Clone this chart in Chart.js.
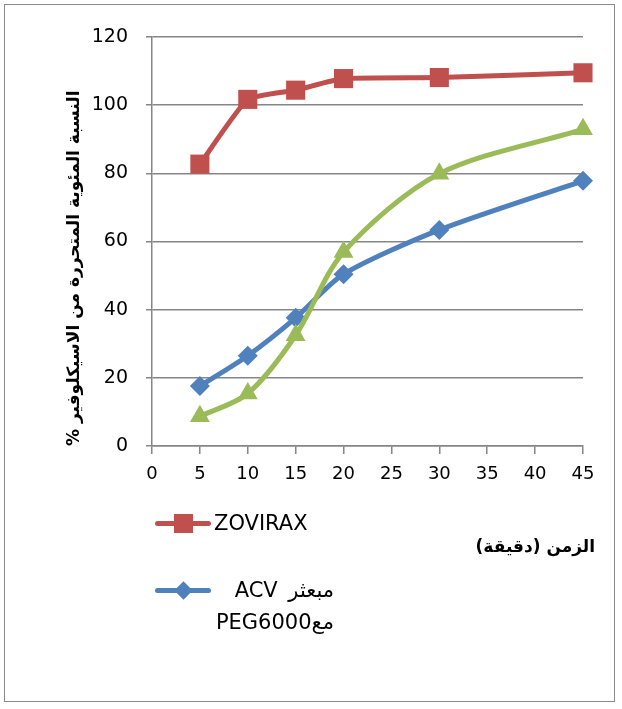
<!DOCTYPE html>
<html>
<head>
<meta charset="utf-8">
<script src="https://cdn.jsdelivr.net/npm/chart.js@4"></script>
<style>
  html, body { margin: 0; padding: 0; background: #fff; }
  #wrap { position: relative; width: 622px; height: 709px; overflow: hidden; }
  #frame { position: absolute; left: 4px; top: 4px; width: 611px; height: 698px; border: 1.5px solid #8a8a8a; box-sizing: border-box; pointer-events: none; }
  canvas { position: absolute; left: 0; top: 0; }
  .lg { position: absolute; font-family: "DejaVu Sans", sans-serif; font-size: 21px; color: #000; white-space: pre; line-height: 1; }
  .ln { position: absolute; height: 5px; border-radius: 3px; }
  .mk { position: absolute; }
  #xt { position: absolute; font-family: "DejaVu Sans", sans-serif; font-weight: bold; font-size: 17px; white-space: nowrap; line-height: 1; }
</style>
</head>
<body>
<div id="wrap">
  <canvas id="c" width="622" height="709"></canvas>
  <div id="frame"></div>

  <div class="ln" style="left:155px; top:521px; width:56px; background:#C0504D;"></div>
  <div class="mk" style="left:174px; top:514px; width:19px; height:19px; background:#C0504D;"></div>
  <div class="lg" id="lg1" style="left:214px; top:513px;">ZOVIRAX</div>

  <div class="ln" style="left:155px; top:588px; width:56px; background:#4F81BD;"></div>
  <div class="mk" style="left:177px; top:584px; width:13px; height:13px; background:#4F81BD; transform: rotate(45deg);"></div>
  <div class="lg" id="lg2a" dir="rtl" style="right:288px; top:580px; word-spacing:4px;">مبعثر ACV</div>
  <div class="lg" id="lg2b" dir="rtl" style="right:288px; top:612px;">معPEG6000</div>

  <div id="xt" dir="rtl" style="right:27px; top:538px;">الزمن (دقيقة)</div>
</div>
<script>
const xValues = [5, 10, 15, 20, 30, 45];
const zovirax = [82.7, 101.7, 104.4, 107.8, 108.1, 109.5];
const acvPeg = [17.6, 26.5, 37.6, 50.4, 63.4, 77.8];
const thirdSeries = [8.7, 15.4, 32.5, 56.9, 79.9, 92.9];
const seriesNames = ['ZOVIRAX', 'مبعثر ACV معPEG6000', ''];
const xTicks = [0, 5, 10, 15, 20, 25, 30, 35, 40, 45];
const yTicks = [0, 20, 40, 60, 80, 100, 120];
const yTitle = 'النسبة المئوية المتحررة من الاسيكلوفير %';

function pts(arr) { return xValues.map((x, i) => ({ x: x, y: arr[i] })); }

const ctx = document.getElementById('c').getContext('2d');
new Chart(ctx, {
  type: 'line',
  data: {
    datasets: [
      { label: seriesNames[0], data: pts(zovirax), borderColor: '#C0504D', backgroundColor: '#C0504D',
        pointStyle: 'rect', pointRadius: 13.5, pointHoverRadius: 13.5, borderWidth: 5, tension: 0.15, order: 2, clip: false, pointBorderWidth: 0 },
      { label: seriesNames[1], data: pts(acvPeg), borderColor: '#4F81BD', backgroundColor: '#4F81BD',
        pointStyle: 'rectRot', pointRadius: 10, pointHoverRadius: 10, borderWidth: 5, tension: 0.25, order: 1, clip: false, pointBorderWidth: 0 },
      { label: seriesNames[2], data: pts(thirdSeries), borderColor: '#9BBB59', backgroundColor: '#9BBB59',
        pointStyle: 'triangle', pointRadius: 11.5, pointHoverRadius: 11.5, borderWidth: 5, tension: 0.3, order: 0, clip: false, pointBorderWidth: 0 }
    ]
  },
  options: {
    responsive: false,
    animation: false,
    devicePixelRatio: 1,
    layout: { padding: { left: 60, top: 37, right: 39, bottom: 223 } },
    plugins: { legend: { display: false }, tooltip: { enabled: false } },
    scales: {
      x: {
        type: 'linear', min: 0, max: 45,
        afterBuildTicks: (s) => { s.ticks = xTicks.map(v => ({ value: v })); },
        afterFit: (s) => { s.height = 40; },
        grid: { display: true, drawOnChartArea: false, drawTicks: true, tickLength: 8, color: '#868686', lineWidth: 1.5 },
        border: { display: true, color: '#868686', width: 1.5 },
        ticks: { color: '#000', font: { family: 'DejaVu Sans', size: 18 }, padding: 10, maxRotation: 0, autoSkip: false }
      },
      y: {
        type: 'linear', min: 0, max: 120,
        afterBuildTicks: (s) => { s.ticks = yTicks.map(v => ({ value: v })); },
        afterFit: (s) => { s.width = 92; },
        grid: { display: true, drawOnChartArea: true, drawTicks: true, tickLength: 6, color: '#868686', lineWidth: 1.5 },
        border: { display: true, color: '#868686', width: 1.5 },
        ticks: { color: '#000', font: { family: 'DejaVu Sans', size: 19 }, padding: 18 },
        title: { display: true, align: 'start', text: '\u202B' + yTitle + '\u202C', color: '#000', font: { family: 'DejaVu Sans', size: 17, weight: 'bold' }, padding: { top: 4, bottom: 4 } }
      }
    }
  }
});
</script>
</body>
</html>
